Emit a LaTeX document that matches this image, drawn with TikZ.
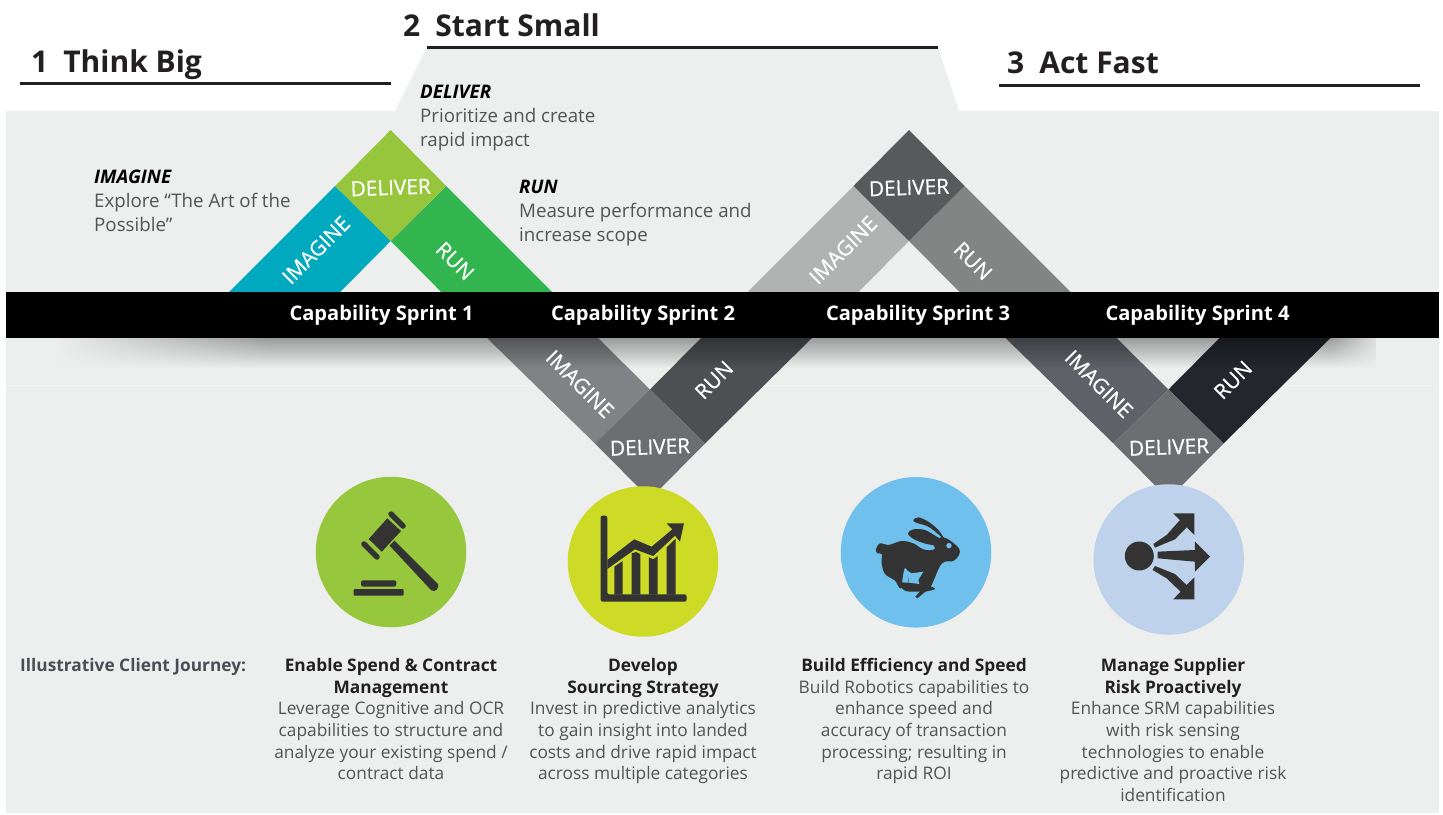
\documentclass[tikz,border=0pt]{standalone}
\usepackage{fontspec}
\setmainfont{Open Sans}
\newfontfamily\bandfont{Open Sans}[FakeBold=0.6]
\usetikzlibrary{positioning}
\usetikzlibrary{fadings}
\definecolor{panelgray}{HTML}{EDEFEE}
\definecolor{icondark}{HTML}{333333}
\definecolor{bodytext}{HTML}{525355}
\definecolor{titletext}{HTML}{231F20}
\definecolor{journeyhead}{HTML}{4A4D55}
\definecolor{imagineA}{HTML}{00A9BD}
\definecolor{deliverA}{HTML}{97C63D}
\definecolor{runA}{HTML}{32B44F}
\definecolor{imagineB}{HTML}{808285}
\definecolor{deliverB}{HTML}{6D6E71}
\definecolor{runB}{HTML}{4D4F53}
\definecolor{imagineC}{HTML}{B1B3B3}
\definecolor{deliverC}{HTML}{58595B}
\definecolor{runC}{HTML}{818685}
\definecolor{imagineD}{HTML}{5F6168}
\definecolor{runD}{HTML}{23272D}
\definecolor{circleA}{HTML}{96C73D}
\definecolor{circleB}{HTML}{CDDB27}
\definecolor{circleC}{HTML}{6FC0ED}
\definecolor{circleD}{HTML}{BED2EC}
\tikzfading[name=barshadow, top color=transparent!65, bottom color=transparent!100]
\tikzfading[name=shadowleft, left color=transparent!0, right color=transparent!100]
\tikzfading[name=shadowright, left color=transparent!100, right color=transparent!0]
\tikzstyle{heading}=[font=\fontsize{30}{36}\selectfont\bfseries,text=titletext,inner sep=0pt,anchor=base west]
\tikzstyle{headrule}=[draw=titletext,line width=3pt]
\tikzstyle{bandlabel}=[font=\fontsize{20.8}{24}\bandfont,text=white,inner sep=0pt]
\tikzstyle{sprintlabel}=[font=\fontsize{20.1}{24}\selectfont\bfseries,text=white,inner sep=0pt]
\tikzstyle{phasetext}=[font=\fontsize{18.7}{24}\selectfont,text=bodytext,align=left,inner sep=0pt,anchor=north west]
\tikzstyle{journeytext}=[font=\fontsize{17.3}{21.7}\selectfont,text=bodytext,align=center,inner sep=0pt,anchor=north]
\tikzstyle{iconcircle}=[circle,minimum size=150.5pt,inner sep=0pt]

\begin{document}
\begin{tikzpicture}[x=1pt,y=-1pt]
  \useasboundingbox (0,0) rectangle (1443,814);

  % panel and raised middle part
  \fill[panelgray] (6,111) rectangle (1439,813);
  \fill[panelgray] (427,47) -- (938,47) -- (959,111) -- (395,111) -- cycle;
  \draw[white!25!panelgray, line width=.6pt] (6,385) -- (1439,385);

  % bands above the bar
  \foreach \cx/\cimagine/\cdeliver/\crun in {390.7/imagineA/deliverA/runA, 909/imagineC/deliverC/runC}{
    \fill[\cimagine] (\cx-55.5,186) -- (\cx,241) -- (\cx-50.5,292) -- (\cx-161.5,292) -- cycle;
    \fill[\crun] (\cx+55.5,186) -- (\cx,241) -- (\cx+50.5,292) -- (\cx+161.5,292) -- cycle;
    \fill[\cdeliver] (\cx,130) -- (\cx+55.5,186) -- (\cx,241) -- (\cx-55.5,186) -- cycle;
  }
  % bands below the bar
  \foreach \cx/\cimagine/\crun in {650/imagineB/runB, 1168.5/imagineD/runD}{
    \fill[\cimagine] (\cx-163,338) -- (\cx-52,338) -- (\cx,389.5) -- (\cx-55,443.5) -- cycle;
    \fill[\crun] (\cx+162,338) -- (\cx+51,338) -- (\cx,389.5) -- (\cx+55,443.5) -- cycle;
    \fill[deliverB] (\cx,389.5) -- (\cx+55,443.5) -- (\cx,499) -- (\cx-55,443.5) -- cycle;
  }

  % black bar and its shadow
  \fill[black, path fading=barshadow] (60,338) rectangle (1380,368);
  \fill[panelgray, path fading=shadowleft] (54,336) rectangle (270,370);
  \fill[panelgray, path fading=shadowright] (1331,336) rectangle (1386,370);
  \fill[black] (6,292) rectangle (1439,338);

  \foreach \pos/\name/\label/\ang in {{(316,250)/imagineone/IMAGINE/45}, {(455,261)/runone/RUN/-45}, {(390.7,187.5)/deliverone/DELIVER/2},
      {(580,384)/imaginetwo/IMAGINE/-45}, {(714,380)/runtwo/RUN/45}, {(650,447)/delivertwo/DELIVER/2},
      {(843,250)/imaginethree/IMAGINE/45}, {(973,261)/runthree/RUN/-45}, {(909,187.5)/deliverthree/DELIVER/2},
      {(1099,384)/imaginefour/IMAGINE/-45}, {(1233,380)/runfour/RUN/45}, {(1169,447)/deliverfour/DELIVER/2}}
    \node[bandlabel,rotate=\ang] (\name) at \pos {\label};

  \foreach \pos/\name/\num in {{(381.5,315.5)/sprintone/1}, {(643,315.5)/sprinttwo/2}, {(918,315.5)/sprintthree/3}, {(1197.5,315.5)/sprintfour/4}}
    \node[sprintlabel] (\name) at \pos {Capability Sprint \num};

  % headings
  \node[heading] (bighead) at (31,72) {1\hspace{.5em}Think Big};
  \node[heading] (smallhead) at (403,36) {2\hspace{.5em}Start Small};
  \node[heading] (fasthead) at (1007,73) {3\hspace{.5em}Act Fast};
  \draw[headrule] (20,83.5) -- (391,83.5);
  \draw[headrule] (427,47) -- (938,47);
  \draw[headrule] (999,85.5) -- (1420,85.5);

  % phase notes
  \node[phasetext] (imaginenote) at (94,169.5) {\textbf{\textit{\textcolor{black}{IMAGINE}}}\\Explore “The Art of the\\Possible”};
  \node[phasetext] (delivernote) at (420,84.5) {\textbf{\textit{\textcolor{black}{DELIVER}}}\\Prioritize and create\\rapid impact};
  \node[phasetext] (runnote) at (519,179.5) {\textbf{\textit{\textcolor{black}{RUN}}}\\Measure performance and\\increase scope};

  % circles
  \node[iconcircle,fill=circleA] (gavelcircle) at (391,552) {};
  \node[iconcircle,fill=circleB] (chartcircle) at (643,561.5) {};
  \node[iconcircle,fill=circleC] (rabbitcircle) at (916,552.3) {};
  \node[iconcircle,fill=circleD] (arrowcircle) at (1168.7,559.5) {};

  % gavel
  \fill[icondark] (387.3,518.3) -- (401,531) -- (381.7,551.7) -- (368.7,539) -- cycle;
  \draw[icondark, line width=5.5pt, line cap=round] (391,514) -- (403,526);
  \draw[icondark, line width=5.5pt, line cap=round] (364,544) -- (377,557);
  \fill[icondark] (389.5,545.5) -- (394.5,540.5) -- (438,584) -- (438,587) to[bend left=40] (434,591) -- (431,590) -- cycle;
  \fill[icondark, rounded corners=1pt] (353.7,589) rectangle (403.7,595.7);
  \fill[icondark, rounded corners=2pt] (361,586.5) -- (361,580.3) -- (396.3,580.3) -- (396.3,586.5) -- cycle;

  % chart
  \begin{scope}[shift={(300,470)},x=.3333pt,y=-.3333pt]
    \fill[icondark, rounded corners=2pt] (902,137) -- (922,137) -- (922,373) -- (1160,373) -- (1160,395) -- (902,395) -- cycle;
    \fill[icondark] (943,290) -- (968,273) -- (968,374) -- (943,374) -- cycle;
    \fill[icondark] (995,250) -- (1008,246) -- (1021,252) -- (1021,374) -- (995,374) -- cycle;
    \fill[icondark] (1047,262) -- (1060,268) -- (1073,258) -- (1073,374) -- (1047,374) -- cycle;
    \fill[icondark] (1100,232) -- (1127,206) -- (1127,374) -- (1100,374) -- cycle;
    \fill[icondark] (922,270) -- (1003,208) -- (1055,230) -- (1117,178) -- (1100,160) -- (1152,160) -- (1140,215) -- (1125,197) -- (1060,258) -- (1005,238) -- (922,297) -- cycle;
  \end{scope}

  % rabbit
  \begin{scope}[shift={(830,470)},x=.3333pt,y=-.3333pt]
    \fill[icondark] plot[smooth cycle,tension=.55] coordinates {(138,238) (150,220) (175,225) (215,213) (250,220) (280,238) (312,238) (335,205) (355,208) (387,235) (387,255) (370,273) (345,275) (330,288) (315,322) (302,350) (290,352) (240,342) (232,300) (222,300) (212,355) (195,332) (165,312) (155,280) (155,252) (142,250)};
    \fill[icondark] plot[smooth cycle,tension=.55] coordinates {(205,340) (225,362) (260,365) (310,360) (310,352) (270,343) (235,338)};
    \fill[icondark] (300,350) -- (312,357) -- (285,366) -- (262,385) -- (256,380) -- (272,362) -- cycle;
    \fill[circleC] (222,296) -- (245,310) -- (280,305) -- (265,330) -- (268,342) -- (238,338) -- (232,312) -- cycle;
    \fill[icondark] plot[smooth cycle,tension=.55] coordinates {(234,190) (250,178) (285,180) (320,200) (345,215) (320,225) (290,222) (250,207)};
    \fill[icondark] plot[smooth cycle,tension=.55] coordinates {(250,150) (265,142) (295,155) (325,180) (345,210) (330,197) (295,170) (258,158)};
    \fill[icondark] (308,222) -- (335,200) -- (365,225) -- (325,250) -- cycle;
    \fill[circleC] (357,227) circle[radius=2.7pt];
  \end{scope}

  % diverging arrows
  \begin{scope}[shift={(830,470)},x=.3333pt,y=-.3333pt]
    \fill[icondark] (928,258) circle[radius=14.5pt];
    \fill[icondark] (970,222) -- (1010,195) -- (1050,150) -- (1030,130) -- (1093,130) -- (1093,195) -- (1070,172) -- (1035,208) -- (975,233) -- cycle;
    \fill[icondark] (983,245) -- (1095,240) -- (1095,215) -- (1140,260) -- (1095,305) -- (1095,275) -- (983,265) -- cycle;
    \fill[icondark] (975,288) -- (1035,312) -- (1070,345) -- (1093,322) -- (1093,388) -- (1030,388) -- (1052,365) -- (1010,325) -- (968,300) -- cycle;
  \end{scope}

  % client journey
  \node[journeytext,anchor=north west,text=journeyhead] (journeyheadline) at (20,658) {\textbf{Illustrative Client Journey:}};
  \node[journeytext] (journeyone) at (391,658) {\textbf{\textcolor{titletext}{Enable Spend \& Contract}}\\\textbf{\textcolor{titletext}{Management}}\\Leverage Cognitive and OCR\\capabilities to structure and\\analyze your existing spend /\\contract data};
  \node[journeytext] (journeytwo) at (643,658) {\textbf{\textcolor{titletext}{Develop}}\\\textbf{\textcolor{titletext}{Sourcing Strategy}}\\Invest in predictive analytics\\to gain insight into landed\\costs and drive rapid impact\\across multiple categories};
  \node[journeytext] (journeythree) at (914,658) {\textbf{\textcolor{titletext}{Build Efficiency and Speed}}\\Build Robotics capabilities to\\enhance speed and\\accuracy of transaction\\processing; resulting in\\rapid ROI};
  \node[journeytext] (journeyfour) at (1173,658) {\textbf{\textcolor{titletext}{Manage Supplier}}\\\textbf{\textcolor{titletext}{Risk Proactively}}\\Enhance SRM capabilities\\with risk sensing\\technologies to enable\\predictive and proactive risk\\identification};
\end{tikzpicture}
\end{document}
